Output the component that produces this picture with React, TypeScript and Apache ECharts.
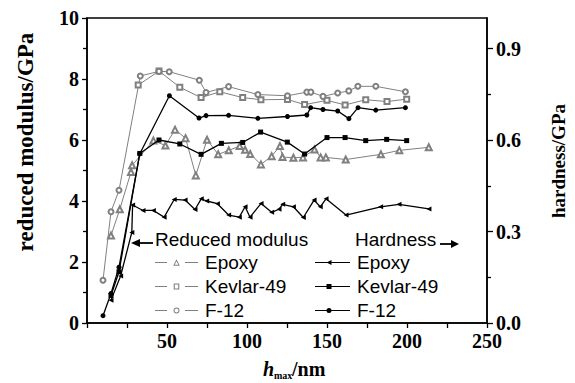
import React, { useEffect, useRef } from 'react';
import * as echarts from 'echarts';

// h_max (nm), reduced modulus (GPa)
const epoxyModulus: [number, number][] = [
  [15, 2.87], [20.5, 3.73], [27.5, 4.95], [28.2, 5.17], [41.5, 5.98], [49, 5.82], [55, 6.34],
  [61.6, 6.06], [68, 4.84], [75, 6.01], [82, 5.53], [88.6, 5.66], [95.4, 5.8], [98.8, 5.68],
  [102, 5.54], [108.7, 5.2], [115.4, 5.47], [120.6, 5.8], [122.2, 5.44], [129, 5.42], [135, 5.43],
  [142.2, 5.69], [146, 5.43], [149.3, 5.43], [161.7, 5.36], [183.7, 5.53], [195.2, 5.66], [213.6, 5.76],
];
const kevlarModulus: [number, number][] = [
  [32, 7.8], [45, 8.26], [58, 7.73], [71.3, 7.39], [83, 7.58], [97.3, 7.39], [108.7, 7.32],
  [125.3, 7.33], [136, 7.16], [150, 7.3], [161.3, 7.15], [174.2, 7.32], [187.5, 7.26], [199.8, 7.34],
];
const f12Modulus: [number, number][] = [
  [10, 1.4], [15, 3.65], [20, 4.35], [33.3, 8.1], [45, 8.25], [51.4, 8.24], [70.2, 7.96], [74.4, 7.56],
  [88.5, 7.75], [106.8, 7.49], [125.3, 7.45], [137.4, 7.57], [139.9, 7.57], [147.5, 7.43], [156.7, 7.54],
  [163.6, 7.61], [169.3, 7.76], [180.5, 7.76], [199, 7.58],
];

// h_max (nm), hardness (GPa)
const epoxyHardness: [number, number][] = [
  [15, 0.075], [21, 0.154], [28, 0.297], [28.5, 0.387], [35, 0.369], [41.5, 0.369], [48.2, 0.347],
  [54.5, 0.405], [61.3, 0.403], [67.5, 0.372], [71.4, 0.407], [74.8, 0.4], [81.5, 0.391], [88.5, 0.354],
  [95.2, 0.347], [98.8, 0.381], [101.9, 0.347], [108.8, 0.392], [115.4, 0.363], [120, 0.373],
  [122.3, 0.389], [129, 0.381], [135.2, 0.346], [141.9, 0.403], [145.8, 0.381], [149.4, 0.407],
  [161.9, 0.354], [183.5, 0.381], [195, 0.389], [213.7, 0.374],
];
const kevlarHardness: [number, number][] = [
  [15, 0.09], [20, 0.168], [33, 0.556], [45, 0.6], [58, 0.587], [71.3, 0.553], [84, 0.589], [97.3, 0.592],
  [108.5, 0.626], [125.2, 0.593], [136, 0.554], [150, 0.608], [161.3, 0.608], [174.2, 0.598],
  [187.3, 0.602], [199.8, 0.598],
];
const f12Hardness: [number, number][] = [
  [10, 0.024], [15, 0.097], [20, 0.183], [33, 0.555], [51.5, 0.745], [70, 0.672], [74.4, 0.68],
  [88.5, 0.681], [106.8, 0.671], [125.3, 0.677], [137.4, 0.682], [139.8, 0.706], [147.5, 0.7],
  [156.7, 0.695], [163.7, 0.67], [169.4, 0.706], [180.5, 0.698], [199, 0.706],
];

const modulusNames = ['Epoxy|m', 'Kevlar-49|m', 'F-12|m'];
const hardnessNames = ['Epoxy|h', 'Kevlar-49|h', 'F-12|h'];
const rightTicks = [0, 0.3, 0.6, 0.9];

const SERIF = '"Liberation Serif", "Times New Roman", serif';
const SANS = '"Liberation Sans", Arial, sans-serif';
const GRAY = '#808080';

// legend icons: dashed line with a gap around a hollow marker (modulus), continuous line with filled marker (hardness)
const dashes = 'M0,2.6 H12 V3.8 H0 Z M30,2.6 H43 V3.8 H30 Z ';
const modIcons = [
  'path://' + dashes + 'M21.5,0 L24.8,6.4 L18.2,6.4 Z M21.5,2 L19.7,5.5 L23.3,5.5 Z',
  'path://' + dashes + 'M18.7,0.2 H24.3 V6.2 H18.7 Z M19.8,1.3 V5.1 H23.2 V1.3 Z',
  'path://' + dashes + 'M24.5,3.2 A3,3 0 1,1 18.5,3.2 A3,3 0 1,1 24.5,3.2 Z M23.5,3.2 A2,2 0 1,0 19.5,3.2 A2,2 0 1,0 23.5,3.2 Z',
];
const hardLine = 'M0,2.4 H35 V3.6 H0 Z ';
const hardIcons = [
  'path://' + hardLine + 'M11.5,3 L16.5,0.5 L16.5,5.5 Z',
  'path://' + hardLine + 'M11.5,0.5 H16.5 V5.5 H11.5 Z',
  'path://' + hardLine + 'M16.5,3 A2.5,2.5 0 1,1 11.5,3 A2.5,2.5 0 1,1 16.5,3 Z',
];

export default function App() {
  const ref = useRef<HTMLDivElement>(null);
  useEffect(() => {
    const chart = echarts.init(ref.current!, null, { renderer: 'svg' });
    const tickLabel = { fontFamily: SERIF, fontWeight: 'bold' as const, fontSize: 20, color: '#000' };
    const axisLine = { show: true, lineStyle: { color: '#000', width: 1.5 } };
    const mod = (name: string, data: [number, number][], symbol: string, size: number) => ({
      name, type: 'line', yAxisIndex: 0, data, symbol, symbolSize: size,
      lineStyle: { color: GRAY, width: 1 },
      itemStyle: { color: GRAY, borderColor: GRAY, borderWidth: 1 },
      z: 2,
    });
    const hard = (name: string, data: [number, number][], symbol: string, size: number, rot = 0) => ({
      name, type: 'line', yAxisIndex: 1, data, symbol, symbolSize: size, symbolRotate: rot,
      lineStyle: { color: '#000', width: 1.3 },
      itemStyle: { color: '#000' },
      z: 3,
    });
    const legendBase = {
      orient: 'vertical' as const,
      top: 252,
      padding: 0,
      itemHeight: 7,
      itemGap: 3,
      formatter: (n: string) => n.split('|')[0],
      textStyle: { fontFamily: SANS, fontSize: 19, color: '#000', lineHeight: 21, padding: [0, 0, 0, 2] },
      itemStyle: { borderWidth: 0 },
      selectedMode: false,
    };
    chart.setOption({
      animation: false,
      backgroundColor: '#fff',
      grid: { left: 87, right: 88, top: 18, bottom: 60, show: true, borderColor: '#000', borderWidth: 1.5, backgroundColor: 'transparent' },
      xAxis: {
        type: 'value', min: 0, max: 250, interval: 50,
        axisLine,
        axisTick: { show: true, length: 5, lineStyle: { color: '#000', width: 1.3 } },
        minorTick: { show: true, splitNumber: 2, length: 5, lineStyle: { color: '#000', width: 1.3 } },
        splitLine: { show: false },
        axisLabel: { ...tickLabel, margin: 8, formatter: (v: number) => (v === 0 ? '' : String(v)) },
      },
      yAxis: [
        {
          type: 'value', min: 0, max: 10, interval: 2, position: 'left',
          axisLine,
          axisTick: { show: true, length: 5, lineStyle: { color: '#000', width: 1.3 } },
          minorTick: { show: true, splitNumber: 2, length: 4, lineStyle: { color: '#000', width: 1.3 } },
          splitLine: { show: false },
          axisLabel: { ...tickLabel, margin: 8 },
        },
        {
          type: 'value', min: 0, max: 1, interval: 0.3, position: 'right',
          axisLine,
          axisTick: { show: true, length: 6, customValues: rightTicks, lineStyle: { color: '#000', width: 1.3 } },
          minorTick: { show: true, splitNumber: 2, length: 4, lineStyle: { color: '#000', width: 1.3 } },
          splitLine: { show: false },
          axisLabel: { ...tickLabel, margin: 9, customValues: rightTicks, formatter: (v: number) => (v > 0.95 ? '' : v.toFixed(1)) },
        },
      ],
      legend: [
        { ...legendBase, left: 155, itemWidth: 43, data: modulusNames.map((name, i) => ({ name, icon: modIcons[i] })) },
        { ...legendBase, left: 315, itemWidth: 35, data: hardnessNames.map((name, i) => ({ name, icon: hardIcons[i] })) },
      ],
      series: [
        mod(modulusNames[0], epoxyModulus, 'emptyTriangle', 6),
        mod(modulusNames[1], kevlarModulus, 'emptyRect', 5),
        mod(modulusNames[2], f12Modulus, 'emptyCircle', 5),
        hard(hardnessNames[0], epoxyHardness, 'triangle', 5, 90),
        hard(hardnessNames[1], kevlarHardness, 'rect', 5),
        hard(hardnessNames[2], f12Hardness, 'circle', 5),
      ],
      graphic: [
        { type: 'text', x: 155, y: 239, style: { text: 'Reduced modulus', font: `19px ${SANS}`, fill: '#000', textAlign: 'left', textVerticalAlign: 'middle', align: 'left', verticalAlign: 'middle' } },
        { type: 'line', shape: { x1: 137, y1: 243, x2: 153, y2: 243 }, style: { stroke: '#000', lineWidth: 1.8 } },
        { type: 'polygon', shape: { points: [[131, 243], [140, 239], [140, 247]] }, style: { fill: '#000' } },
        { type: 'text', x: 355, y: 239, style: { text: 'Hardness', font: `19px ${SANS}`, fill: '#000', textAlign: 'left', textVerticalAlign: 'middle', align: 'left', verticalAlign: 'middle' } },
        { type: 'line', shape: { x1: 440, y1: 244, x2: 452, y2: 244 }, style: { stroke: '#000', lineWidth: 1.8 } },
        { type: 'polygon', shape: { points: [[459, 244], [451, 240], [451, 248]] }, style: { fill: '#000' } },
        { type: 'text', x: 25, y: 142, rotation: Math.PI / 2, style: { text: 'reduced modulus/GPa', font: `bold 23px ${SERIF}`, fill: '#000', textAlign: 'center', textVerticalAlign: 'middle', align: 'center', verticalAlign: 'middle' } },
        { type: 'text', x: 558, y: 161, rotation: Math.PI / 2, style: { text: 'hardness/GPa', font: `bold 19px ${SERIF}`, fill: '#000', textAlign: 'center', textVerticalAlign: 'middle', align: 'center', verticalAlign: 'middle' } },
        { type: 'text', x: 263, y: 369, style: { text: 'h', font: `italic bold 20px ${SERIF}`, fill: '#000', textAlign: 'left', textVerticalAlign: 'middle', align: 'left', verticalAlign: 'middle' } },
        { type: 'text', x: 274, y: 375, style: { text: 'max', font: `bold 10px ${SERIF}`, fill: '#000', textAlign: 'left', textVerticalAlign: 'middle', align: 'left', verticalAlign: 'middle' } },
        { type: 'text', x: 292, y: 369, style: { text: '/nm', font: `bold 20px ${SERIF}`, fill: '#000', textAlign: 'left', textVerticalAlign: 'middle', align: 'left', verticalAlign: 'middle' } },
      ],
    });
    return () => chart.dispose();
  }, []);
  return <div ref={ref} style={{ position: 'fixed', left: 0, top: 0, width: 575, height: 383 }} />;
}
